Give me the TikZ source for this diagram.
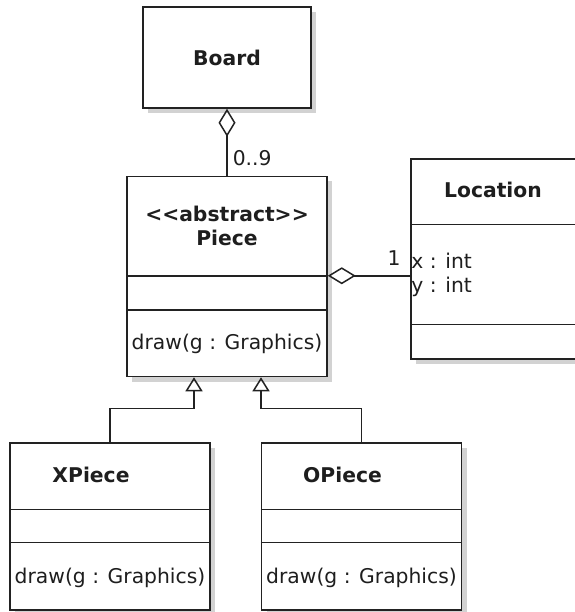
\documentclass[tikz,border=0pt]{standalone}
\usepackage{fontspec}
\setmainfont{DejaVu Sans}
\usepackage{tikz}
\usetikzlibrary{arrows.meta,positioning,shadows}
\definecolor{umlline}{HTML}{222222}
\definecolor{umltext}{HTML}{1E1E1E}
\definecolor{umlshadow}{HTML}{D2D2D2}
\newcommand{\umlfont}{\fontsize{20.3}{24}\selectfont}
\tikzset{
  umlclass/.style={
    draw=umlline,
    fill=white,
    line width=1.5pt,
    inner sep=0pt,
    minimum width=200pt,
    drop shadow={shadow xshift=5pt, shadow yshift=-5pt, fill=umlshadow, opacity=1}
  },
  classname/.style={
    font=\umlfont\bfseries,
    text=umltext,
    align=center,
    inner sep=0pt
  },
  member/.style={
    font=\umlfont,
    text=umltext,
    align=left,
    inner sep=1pt
  },
  multiplicity/.style={
    font=\umlfont,
    text=umltext,
    inner sep=2pt
  },
  divider/.style={
    draw=umlline,
    line width=1.5pt
  },
  aggregation/.style={
    {Diamond[open,length=28pt,width=17pt]}-,
    draw=umlline,
    line width=1.5pt
  },
  generalization/.style={
    -{Triangle[open,length=14pt,width=17pt]},
    draw=umlline,
    line width=1.5pt
  }
}

\begin{document}
\begin{tikzpicture}[x=1pt, y=-1pt]
    \useasboundingbox (0,0) rectangle (574,612);

    % classes
    \node[umlclass, classname, minimum width=168pt, minimum height=101pt] (board) at (227,57.5) {Board};
    \node[umlclass, minimum height=200pt, below=67pt of board] (piece) {};
    \node[umlclass, minimum width=168pt, minimum height=200pt] (location) at (495,259) {};
    \node[umlclass, minimum height=167pt] (xpiece) at (110,526.5) {};
    \node[umlclass, minimum height=167pt, right=50pt of xpiece] (opiece) {};

    % compartments
    \draw[divider] ([yshift=-100pt]piece.north west) -- ([yshift=-100pt]piece.north east);
    \draw[divider] ([yshift=-134pt]piece.north west) -- ([yshift=-134pt]piece.north east);
    \draw[divider] ([yshift=-66pt]location.north west) -- ([yshift=-66pt]location.north east);
    \draw[divider] ([yshift=-166pt]location.north west) -- ([yshift=-166pt]location.north east);
    \foreach \cls in {xpiece,opiece} {
        \draw[divider] ([yshift=-67pt]\cls.north west) -- ([yshift=-67pt]\cls.north east);
        \draw[divider] ([yshift=-100pt]\cls.north west) -- ([yshift=-100pt]\cls.north east);
    }

    % texts
    \node[classname] (piecename) at ([yshift=-50pt]piece.north) {<\kern0pt<abstract>\kern0pt>\\Piece};
    \node[member] (piecedraw) at ([yshift=33pt]piece.south) {draw(g : Graphics)};
    \node[classname] (locationname) at ([xshift=-2pt, yshift=-32pt]location.north) {Location};
    \node[member, anchor=west] (locationattrs) at ([yshift=-16pt]location.west) {x : int\\y : int};
    \node[classname] (xpiecename) at ([xshift=-19pt, yshift=-33pt]xpiece.north) {XPiece};
    \node[member] (xpiecedraw) at ([yshift=33pt]xpiece.south) {draw(g : Graphics)};
    \node[classname] (opiecename) at ([xshift=-19pt, yshift=-33pt]opiece.north) {OPiece};
    \node[member] (opiecedraw) at ([yshift=33pt]opiece.south) {draw(g : Graphics)};

    % associations
    \draw[aggregation] (board) -- (piece)
        node[multiplicity, pos=0.73, anchor=west, xshift=3pt] (boardmult) {0..9};
    \coordinate (pieceagg) at ([yshift=-100pt]piece.north east);
    \draw[aggregation] (pieceagg) -- (pieceagg -| location.west)
        node[multiplicity, anchor=south east, xshift=-7pt, yshift=8pt] (locationmult) {1};
    \draw[generalization] (xpiece.north) -- ++(0,-34) -| ([xshift=-33pt]piece.south);
    \draw[generalization] (opiece.north) -- ++(0,-34) -| ([xshift=34pt]piece.south);
\end{tikzpicture}
\end{document}
